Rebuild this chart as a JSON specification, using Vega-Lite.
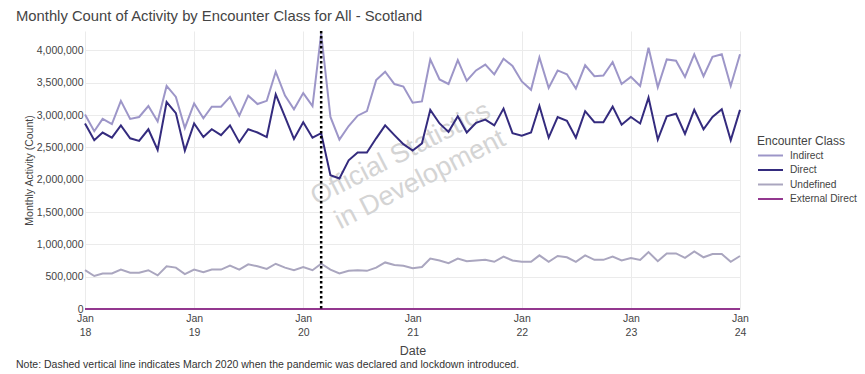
{
"$schema": "https://vega.github.io/schema/vega-lite/v6.json",
"padding": {"left": 16, "top": 9, "right": 5, "bottom": 4},
"background": "white",
"title": {"text": "Note: Dashed vertical line indicates March 2020 when the pandemic was declared and lockdown introduced.", "orient": "bottom", "anchor": "start", "frame": "bounds", "fontSize": 10.5, "font": "Liberation Sans", "fontWeight": "normal", "color": "#333333", "offset": 3},
"config": {
  "view": {"stroke": null},
  "font": "Liberation Sans",
  "axis": {"labelColor": "#444444", "titleColor": "#444444", "gridColor": "#ebebeb", "gridWidth": 1, "domain": false, "ticks": false, "labelFont": "Liberation Sans", "titleFont": "Liberation Sans", "titleFontWeight": "normal", "labelFlush": false, "labelOverlap": false},
  "legend": {"titleFont": "Liberation Sans", "labelFont": "Liberation Sans"}
},
"vconcat": [{
  "width": 655,
  "height": 278,
  "title": {"text": "Monthly Count of Activity by Encounter Class for All - Scotland", "anchor": "start", "frame": "group", "dx": -69, "fontSize": 14.8, "font": "Liberation Sans", "fontWeight": "normal", "color": "#444444", "offset": 5.5},
  "encoding": {
    "x": {"field": "date", "type": "temporal",
      "scale": {"type": "utc", "domain": [{"year": 2018, "month": 1, "date": 1, "utc": true}, {"year": 2024, "month": 1, "date": 1, "utc": true}]},
      "axis": {"title": "Date", "titleFontSize": 12.5, "titlePadding": 6.5, "labelFontSize": 10.5, "labelPadding": 4, "labelBaseline": "top", "labelLineHeight": 14.5, "grid": true,
        "values": [{"year": 2018, "month": 1, "date": 1, "utc": true}, {"year": 2019, "month": 1, "date": 1, "utc": true}, {"year": 2020, "month": 1, "date": 1, "utc": true}, {"year": 2021, "month": 1, "date": 1, "utc": true}, {"year": 2022, "month": 1, "date": 1, "utc": true}, {"year": 2023, "month": 1, "date": 1, "utc": true}, {"year": 2024, "month": 1, "date": 1, "utc": true}],
        "labelExpr": "[utcFormat(datum.value, '%b'), utcFormat(datum.value, '%y')]"}}
  },
  "layer": [
    {
      "data": {"values": [
        {"date": "2020-12-04", "value": 2290000, "text": "Official Statistics"},
        {"date": "2021-02-07", "value": 1890000, "text": "in Development"}
      ]},
      "mark": {"type": "text", "angle": -27, "fontSize": 27, "font": "Liberation Sans", "color": "#d4d4d4", "align": "center", "baseline": "alphabetic"},
      "encoding": {
        "y": {"field": "value", "type": "quantitative", "scale": {"domain": [0, 4300000]},
          "axis": {"title": "Monthly Activity (Count)", "titleFontSize": 10.5, "titlePadding": 2, "labelFontSize": 10.5, "labelPadding": 2, "format": ",.0f", "grid": true, "values": [0, 500000, 1000000, 1500000, 2000000, 2500000, 3000000, 3500000, 4000000]}},
        "text": {"field": "text", "type": "nominal"}
      }
    },
    {
      "data": {"values": [
{"date":"2018-01-01","class":"Indirect","value":3010000},{"date":"2018-02-01","class":"Indirect","value":2750000},{"date":"2018-03-01","class":"Indirect","value":2940000},{"date":"2018-04-01","class":"Indirect","value":2860000},{"date":"2018-05-01","class":"Indirect","value":3220000},{"date":"2018-06-01","class":"Indirect","value":2940000},{"date":"2018-07-01","class":"Indirect","value":2970000},{"date":"2018-08-01","class":"Indirect","value":3140000},{"date":"2018-09-01","class":"Indirect","value":2900000},{"date":"2018-10-01","class":"Indirect","value":3450000},{"date":"2018-11-01","class":"Indirect","value":3280000},{"date":"2018-12-01","class":"Indirect","value":2800000},
{"date":"2019-01-01","class":"Indirect","value":3180000},{"date":"2019-02-01","class":"Indirect","value":2950000},{"date":"2019-03-01","class":"Indirect","value":3130000},{"date":"2019-04-01","class":"Indirect","value":3130000},{"date":"2019-05-01","class":"Indirect","value":3280000},{"date":"2019-06-01","class":"Indirect","value":2990000},{"date":"2019-07-01","class":"Indirect","value":3300000},{"date":"2019-08-01","class":"Indirect","value":3170000},{"date":"2019-09-01","class":"Indirect","value":3220000},{"date":"2019-10-01","class":"Indirect","value":3670000},{"date":"2019-11-01","class":"Indirect","value":3300000},{"date":"2019-12-01","class":"Indirect","value":3090000},
{"date":"2020-01-01","class":"Indirect","value":3340000},{"date":"2020-02-01","class":"Indirect","value":3140000},{"date":"2020-03-01","class":"Indirect","value":4260000},{"date":"2020-04-01","class":"Indirect","value":2970000},{"date":"2020-05-01","class":"Indirect","value":2620000},{"date":"2020-06-01","class":"Indirect","value":2830000},{"date":"2020-07-01","class":"Indirect","value":2990000},{"date":"2020-08-01","class":"Indirect","value":3060000},{"date":"2020-09-01","class":"Indirect","value":3540000},{"date":"2020-10-01","class":"Indirect","value":3670000},{"date":"2020-11-01","class":"Indirect","value":3480000},{"date":"2020-12-01","class":"Indirect","value":3440000},
{"date":"2021-01-01","class":"Indirect","value":3190000},{"date":"2021-02-01","class":"Indirect","value":3210000},{"date":"2021-03-01","class":"Indirect","value":3860000},{"date":"2021-04-01","class":"Indirect","value":3550000},{"date":"2021-05-01","class":"Indirect","value":3480000},{"date":"2021-06-01","class":"Indirect","value":3850000},{"date":"2021-07-01","class":"Indirect","value":3530000},{"date":"2021-08-01","class":"Indirect","value":3690000},{"date":"2021-09-01","class":"Indirect","value":3780000},{"date":"2021-10-01","class":"Indirect","value":3630000},{"date":"2021-11-01","class":"Indirect","value":3870000},{"date":"2021-12-01","class":"Indirect","value":3760000},
{"date":"2022-01-01","class":"Indirect","value":3520000},{"date":"2022-02-01","class":"Indirect","value":3390000},{"date":"2022-03-01","class":"Indirect","value":3890000},{"date":"2022-04-01","class":"Indirect","value":3420000},{"date":"2022-05-01","class":"Indirect","value":3690000},{"date":"2022-06-01","class":"Indirect","value":3630000},{"date":"2022-07-01","class":"Indirect","value":3410000},{"date":"2022-08-01","class":"Indirect","value":3770000},{"date":"2022-09-01","class":"Indirect","value":3600000},{"date":"2022-10-01","class":"Indirect","value":3610000},{"date":"2022-11-01","class":"Indirect","value":3820000},{"date":"2022-12-01","class":"Indirect","value":3480000},
{"date":"2023-01-01","class":"Indirect","value":3590000},{"date":"2023-02-01","class":"Indirect","value":3450000},{"date":"2023-03-01","class":"Indirect","value":4040000},{"date":"2023-04-01","class":"Indirect","value":3430000},{"date":"2023-05-01","class":"Indirect","value":3860000},{"date":"2023-06-01","class":"Indirect","value":3840000},{"date":"2023-07-01","class":"Indirect","value":3590000},{"date":"2023-08-01","class":"Indirect","value":3940000},{"date":"2023-09-01","class":"Indirect","value":3600000},{"date":"2023-10-01","class":"Indirect","value":3900000},{"date":"2023-11-01","class":"Indirect","value":3940000},{"date":"2023-12-01","class":"Indirect","value":3450000},
{"date":"2024-01-01","class":"Indirect","value":3940000},
{"date":"2018-01-01","class":"Direct","value":2870000},{"date":"2018-02-01","class":"Direct","value":2610000},{"date":"2018-03-01","class":"Direct","value":2730000},{"date":"2018-04-01","class":"Direct","value":2650000},{"date":"2018-05-01","class":"Direct","value":2840000},{"date":"2018-06-01","class":"Direct","value":2640000},{"date":"2018-07-01","class":"Direct","value":2600000},{"date":"2018-08-01","class":"Direct","value":2780000},{"date":"2018-09-01","class":"Direct","value":2460000},{"date":"2018-10-01","class":"Direct","value":3200000},{"date":"2018-11-01","class":"Direct","value":3030000},{"date":"2018-12-01","class":"Direct","value":2450000},
{"date":"2019-01-01","class":"Direct","value":2870000},{"date":"2019-02-01","class":"Direct","value":2660000},{"date":"2019-03-01","class":"Direct","value":2780000},{"date":"2019-04-01","class":"Direct","value":2690000},{"date":"2019-05-01","class":"Direct","value":2840000},{"date":"2019-06-01","class":"Direct","value":2580000},{"date":"2019-07-01","class":"Direct","value":2780000},{"date":"2019-08-01","class":"Direct","value":2730000},{"date":"2019-09-01","class":"Direct","value":2660000},{"date":"2019-10-01","class":"Direct","value":3320000},{"date":"2019-11-01","class":"Direct","value":2970000},{"date":"2019-12-01","class":"Direct","value":2630000},
{"date":"2020-01-01","class":"Direct","value":2890000},{"date":"2020-02-01","class":"Direct","value":2650000},{"date":"2020-03-01","class":"Direct","value":2720000},{"date":"2020-04-01","class":"Direct","value":2070000},{"date":"2020-05-01","class":"Direct","value":2020000},{"date":"2020-06-01","class":"Direct","value":2300000},{"date":"2020-07-01","class":"Direct","value":2420000},{"date":"2020-08-01","class":"Direct","value":2420000},{"date":"2020-09-01","class":"Direct","value":2640000},{"date":"2020-10-01","class":"Direct","value":2840000},{"date":"2020-11-01","class":"Direct","value":2690000},{"date":"2020-12-01","class":"Direct","value":2550000},
{"date":"2021-01-01","class":"Direct","value":2450000},{"date":"2021-02-01","class":"Direct","value":2560000},{"date":"2021-03-01","class":"Direct","value":3080000},{"date":"2021-04-01","class":"Direct","value":2870000},{"date":"2021-05-01","class":"Direct","value":2740000},{"date":"2021-06-01","class":"Direct","value":2980000},{"date":"2021-07-01","class":"Direct","value":2730000},{"date":"2021-08-01","class":"Direct","value":2880000},{"date":"2021-09-01","class":"Direct","value":2930000},{"date":"2021-10-01","class":"Direct","value":2840000},{"date":"2021-11-01","class":"Direct","value":3100000},{"date":"2021-12-01","class":"Direct","value":2720000},
{"date":"2022-01-01","class":"Direct","value":2680000},{"date":"2022-02-01","class":"Direct","value":2730000},{"date":"2022-03-01","class":"Direct","value":3140000},{"date":"2022-04-01","class":"Direct","value":2650000},{"date":"2022-05-01","class":"Direct","value":2970000},{"date":"2022-06-01","class":"Direct","value":2910000},{"date":"2022-07-01","class":"Direct","value":2650000},{"date":"2022-08-01","class":"Direct","value":3060000},{"date":"2022-09-01","class":"Direct","value":2890000},{"date":"2022-10-01","class":"Direct","value":2890000},{"date":"2022-11-01","class":"Direct","value":3130000},{"date":"2022-12-01","class":"Direct","value":2850000},
{"date":"2023-01-01","class":"Direct","value":2970000},{"date":"2023-02-01","class":"Direct","value":2870000},{"date":"2023-03-01","class":"Direct","value":3270000},{"date":"2023-04-01","class":"Direct","value":2620000},{"date":"2023-05-01","class":"Direct","value":2980000},{"date":"2023-06-01","class":"Direct","value":3020000},{"date":"2023-07-01","class":"Direct","value":2710000},{"date":"2023-08-01","class":"Direct","value":3080000},{"date":"2023-09-01","class":"Direct","value":2780000},{"date":"2023-10-01","class":"Direct","value":2970000},{"date":"2023-11-01","class":"Direct","value":3090000},{"date":"2023-12-01","class":"Direct","value":2610000},
{"date":"2024-01-01","class":"Direct","value":3080000},
{"date":"2018-01-01","class":"Undefined","value":600000},{"date":"2018-02-01","class":"Undefined","value":510000},{"date":"2018-03-01","class":"Undefined","value":550000},{"date":"2018-04-01","class":"Undefined","value":550000},{"date":"2018-05-01","class":"Undefined","value":610000},{"date":"2018-06-01","class":"Undefined","value":560000},{"date":"2018-07-01","class":"Undefined","value":560000},{"date":"2018-08-01","class":"Undefined","value":600000},{"date":"2018-09-01","class":"Undefined","value":520000},{"date":"2018-10-01","class":"Undefined","value":660000},{"date":"2018-11-01","class":"Undefined","value":640000},{"date":"2018-12-01","class":"Undefined","value":540000},
{"date":"2019-01-01","class":"Undefined","value":610000},{"date":"2019-02-01","class":"Undefined","value":570000},{"date":"2019-03-01","class":"Undefined","value":610000},{"date":"2019-04-01","class":"Undefined","value":610000},{"date":"2019-05-01","class":"Undefined","value":670000},{"date":"2019-06-01","class":"Undefined","value":610000},{"date":"2019-07-01","class":"Undefined","value":690000},{"date":"2019-08-01","class":"Undefined","value":660000},{"date":"2019-09-01","class":"Undefined","value":620000},{"date":"2019-10-01","class":"Undefined","value":700000},{"date":"2019-11-01","class":"Undefined","value":640000},{"date":"2019-12-01","class":"Undefined","value":600000},
{"date":"2020-01-01","class":"Undefined","value":650000},{"date":"2020-02-01","class":"Undefined","value":600000},{"date":"2020-03-01","class":"Undefined","value":700000},{"date":"2020-04-01","class":"Undefined","value":610000},{"date":"2020-05-01","class":"Undefined","value":550000},{"date":"2020-06-01","class":"Undefined","value":590000},{"date":"2020-07-01","class":"Undefined","value":600000},{"date":"2020-08-01","class":"Undefined","value":590000},{"date":"2020-09-01","class":"Undefined","value":640000},{"date":"2020-10-01","class":"Undefined","value":720000},{"date":"2020-11-01","class":"Undefined","value":680000},{"date":"2020-12-01","class":"Undefined","value":670000},
{"date":"2021-01-01","class":"Undefined","value":630000},{"date":"2021-02-01","class":"Undefined","value":650000},{"date":"2021-03-01","class":"Undefined","value":780000},{"date":"2021-04-01","class":"Undefined","value":750000},{"date":"2021-05-01","class":"Undefined","value":710000},{"date":"2021-06-01","class":"Undefined","value":780000},{"date":"2021-07-01","class":"Undefined","value":740000},{"date":"2021-08-01","class":"Undefined","value":750000},{"date":"2021-09-01","class":"Undefined","value":760000},{"date":"2021-10-01","class":"Undefined","value":730000},{"date":"2021-11-01","class":"Undefined","value":810000},{"date":"2021-12-01","class":"Undefined","value":750000},
{"date":"2022-01-01","class":"Undefined","value":730000},{"date":"2022-02-01","class":"Undefined","value":730000},{"date":"2022-03-01","class":"Undefined","value":830000},{"date":"2022-04-01","class":"Undefined","value":730000},{"date":"2022-05-01","class":"Undefined","value":820000},{"date":"2022-06-01","class":"Undefined","value":800000},{"date":"2022-07-01","class":"Undefined","value":730000},{"date":"2022-08-01","class":"Undefined","value":830000},{"date":"2022-09-01","class":"Undefined","value":760000},{"date":"2022-10-01","class":"Undefined","value":760000},{"date":"2022-11-01","class":"Undefined","value":810000},{"date":"2022-12-01","class":"Undefined","value":750000},
{"date":"2023-01-01","class":"Undefined","value":790000},{"date":"2023-02-01","class":"Undefined","value":760000},{"date":"2023-03-01","class":"Undefined","value":880000},{"date":"2023-04-01","class":"Undefined","value":740000},{"date":"2023-05-01","class":"Undefined","value":860000},{"date":"2023-06-01","class":"Undefined","value":860000},{"date":"2023-07-01","class":"Undefined","value":790000},{"date":"2023-08-01","class":"Undefined","value":890000},{"date":"2023-09-01","class":"Undefined","value":800000},{"date":"2023-10-01","class":"Undefined","value":850000},{"date":"2023-11-01","class":"Undefined","value":850000},{"date":"2023-12-01","class":"Undefined","value":730000},
{"date":"2024-01-01","class":"Undefined","value":820000},
{"date":"2018-01-01","class":"External Direct","value":0},{"date":"2018-02-01","class":"External Direct","value":0},{"date":"2018-03-01","class":"External Direct","value":0},{"date":"2018-04-01","class":"External Direct","value":0},{"date":"2018-05-01","class":"External Direct","value":0},{"date":"2018-06-01","class":"External Direct","value":0},{"date":"2018-07-01","class":"External Direct","value":0},{"date":"2018-08-01","class":"External Direct","value":0},{"date":"2018-09-01","class":"External Direct","value":0},{"date":"2018-10-01","class":"External Direct","value":0},{"date":"2018-11-01","class":"External Direct","value":0},{"date":"2018-12-01","class":"External Direct","value":0},
{"date":"2019-01-01","class":"External Direct","value":0},{"date":"2019-02-01","class":"External Direct","value":0},{"date":"2019-03-01","class":"External Direct","value":0},{"date":"2019-04-01","class":"External Direct","value":0},{"date":"2019-05-01","class":"External Direct","value":0},{"date":"2019-06-01","class":"External Direct","value":0},{"date":"2019-07-01","class":"External Direct","value":0},{"date":"2019-08-01","class":"External Direct","value":0},{"date":"2019-09-01","class":"External Direct","value":0},{"date":"2019-10-01","class":"External Direct","value":0},{"date":"2019-11-01","class":"External Direct","value":0},{"date":"2019-12-01","class":"External Direct","value":0},
{"date":"2020-01-01","class":"External Direct","value":0},{"date":"2020-02-01","class":"External Direct","value":0},{"date":"2020-03-01","class":"External Direct","value":0},{"date":"2020-04-01","class":"External Direct","value":0},{"date":"2020-05-01","class":"External Direct","value":0},{"date":"2020-06-01","class":"External Direct","value":0},{"date":"2020-07-01","class":"External Direct","value":0},{"date":"2020-08-01","class":"External Direct","value":0},{"date":"2020-09-01","class":"External Direct","value":0},{"date":"2020-10-01","class":"External Direct","value":0},{"date":"2020-11-01","class":"External Direct","value":0},{"date":"2020-12-01","class":"External Direct","value":0},
{"date":"2021-01-01","class":"External Direct","value":0},{"date":"2021-02-01","class":"External Direct","value":0},{"date":"2021-03-01","class":"External Direct","value":0},{"date":"2021-04-01","class":"External Direct","value":0},{"date":"2021-05-01","class":"External Direct","value":0},{"date":"2021-06-01","class":"External Direct","value":0},{"date":"2021-07-01","class":"External Direct","value":0},{"date":"2021-08-01","class":"External Direct","value":0},{"date":"2021-09-01","class":"External Direct","value":0},{"date":"2021-10-01","class":"External Direct","value":0},{"date":"2021-11-01","class":"External Direct","value":0},{"date":"2021-12-01","class":"External Direct","value":0},
{"date":"2022-01-01","class":"External Direct","value":0},{"date":"2022-02-01","class":"External Direct","value":0},{"date":"2022-03-01","class":"External Direct","value":0},{"date":"2022-04-01","class":"External Direct","value":0},{"date":"2022-05-01","class":"External Direct","value":0},{"date":"2022-06-01","class":"External Direct","value":0},{"date":"2022-07-01","class":"External Direct","value":0},{"date":"2022-08-01","class":"External Direct","value":0},{"date":"2022-09-01","class":"External Direct","value":0},{"date":"2022-10-01","class":"External Direct","value":0},{"date":"2022-11-01","class":"External Direct","value":0},{"date":"2022-12-01","class":"External Direct","value":0},
{"date":"2023-01-01","class":"External Direct","value":0},{"date":"2023-02-01","class":"External Direct","value":0},{"date":"2023-03-01","class":"External Direct","value":0},{"date":"2023-04-01","class":"External Direct","value":0},{"date":"2023-05-01","class":"External Direct","value":0},{"date":"2023-06-01","class":"External Direct","value":0},{"date":"2023-07-01","class":"External Direct","value":0},{"date":"2023-08-01","class":"External Direct","value":0},{"date":"2023-09-01","class":"External Direct","value":0},{"date":"2023-10-01","class":"External Direct","value":0},{"date":"2023-11-01","class":"External Direct","value":0},{"date":"2023-12-01","class":"External Direct","value":0},
{"date":"2024-01-01","class":"External Direct","value":0}
      ]},
      "mark": {"type": "line", "strokeWidth": 2},
      "encoding": {
        "y": {"field": "value", "type": "quantitative", "scale": {"domain": [0, 4300000]},
          "axis": {"title": "Monthly Activity (Count)", "titleFontSize": 10.5, "titlePadding": 2, "labelFontSize": 10.5, "labelPadding": 2, "format": ",.0f", "grid": true, "values": [0, 500000, 1000000, 1500000, 2000000, 2500000, 3000000, 3500000, 4000000]}},
        "color": {"field": "class", "type": "nominal",
          "scale": {"domain": ["Indirect", "Direct", "Undefined", "External Direct"], "range": ["#9d96c8", "#342b7e", "#aaa6bf", "#93388f"]},
          "legend": {"title": "Encounter Class", "orient": "none", "legendX": 672, "legendY": 105, "titleFontSize": 12, "titleColor": "#444444", "titleFontWeight": "normal", "titlePadding": 1.5, "labelFontSize": 10.2, "labelColor": "#444444", "symbolType": "M-1,0H4", "symbolSize": 100, "symbolStrokeWidth": 2, "labelOffset": 21, "rowPadding": 2.5}}
      }
    },
    {
      "data": {"values": [{"date": "2020-03-01"}]},
      "mark": {"type": "rule", "color": "black", "strokeWidth": 2.5, "strokeDash": [2.5, 2.5]},
      "encoding": {}
    }
  ]
}]
}
